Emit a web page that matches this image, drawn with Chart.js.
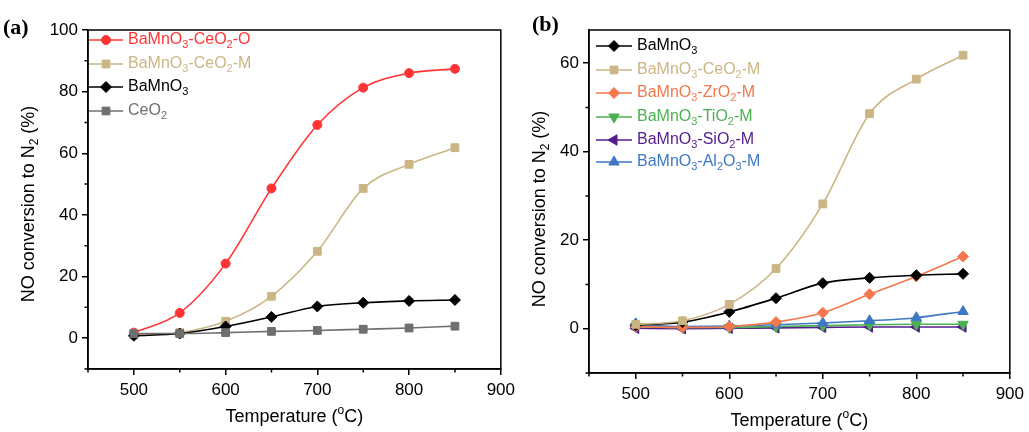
<!DOCTYPE html>
<html>
<head>
<meta charset="utf-8">
<script src="https://cdn.jsdelivr.net/npm/chart.js@4.4.1/dist/chart.umd.min.js"></script>
<style>
  html, body { margin: 0; padding: 0; background: #fff; }
  #wrap { position: relative; width: 1029px; height: 432px; }
  #wrap canvas { position: absolute; top: 0; }
  #panelA { left: 0; }
  #panelB { left: 520px; }
</style>
</head>
<body>
<div id="wrap">
  <canvas id="panelA" width="520" height="432"></canvas>
  <canvas id="panelB" width="509" height="432"></canvas>
</div>
<script>
// temperatures (°C) shared by every series
const temps = [500, 550, 600, 650, 700, 750, 800, 850];

// panel (a)
const ceOxO = [1.8, 8.2, 24.2, 48.6, 69.2, 81.3, 86.0, 87.4];
const ceOxM = [1.0, 1.8, 5.5, 13.6, 28.2, 48.6, 56.4, 61.8];
const bamno3 = [0.8, 1.5, 3.8, 6.9, 10.3, 11.5, 12.1, 12.4];
const ceo2 = [1.5, 1.5, 1.8, 2.2, 2.5, 2.9, 3.3, 3.9];

// panel (b)
const zro2M = [0.5, 0.3, 0.5, 1.5, 3.6, 7.8, 11.8, 16.3];
const tio2M = [0.5, 0.3, 0.3, 0.5, 0.7, 0.9, 1.0, 1.0];
const sio2M = [0.1, 0.0, 0.1, 0.2, 0.3, 0.4, 0.4, 0.4];
const al2o3M = [1.1, 0.5, 0.6, 0.9, 1.3, 1.8, 2.5, 3.9];

const labelsA = ["BaMnO_{3}-CeO_{2}-O", "BaMnO_{3}-CeO_{2}-M", "BaMnO_{3}", "CeO_{2}"];
const labelsB = ["BaMnO_{3}", "BaMnO_{3}-CeO_{2}-M", "BaMnO_{3}-ZrO_{2}-M",
  "BaMnO_{3}-TiO_{2}-M", "BaMnO_{3}-SiO_{2}-M", "BaMnO_{3}-Al_{2}O_{3}-M"];

const xTicksMajor = [500, 600, 700, 800, 900];

const FONT = "'Liberation Sans', Arial, sans-serif";
const C = {
  red: "#ff3535",
  tan: "#cbb584",
  black: "#000000",
  gray: "#6f6f6f",
  orange: "#f4774d",
  green: "#4caf50",
  purple: "#521c8c",
  blue: "#3e78c4",
};

function pts(ys) {
  return temps.map((t, i) => ({ x: t, y: ys[i] }));
}

function series(label, ys, color, style, opts) {
  return Object.assign({
    label: label,
    data: pts(ys),
    borderColor: color,
    backgroundColor: color,
    pointBackgroundColor: color,
    pointBorderColor: color,
    pointStyle: style,
    pointRadius: 5,
    pointBorderWidth: 1,
    borderWidth: 1.6,
    cubicInterpolationMode: "monotone",
    fill: false,
  }, opts || {});
}

// text with _{sub} and ^{sup} parts
function drawRich(ctx, text, x, y, size, color, align) {
  const parts = [];
  const re = /_\{([^}]*)\}|\^\{([^}]*)\}/g;
  let last = 0, m;
  while ((m = re.exec(text))) {
    if (m.index > last) parts.push({ t: text.slice(last, m.index), k: 0 });
    parts.push(m[1] !== undefined ? { t: m[1], k: 1 } : { t: m[2], k: -1 });
    last = re.lastIndex;
  }
  if (last < text.length) parts.push({ t: text.slice(last), k: 0 });
  const small = Math.round(size * 0.68);
  let w = 0;
  parts.forEach(p => {
    ctx.font = (p.k ? small : size) + "px " + FONT;
    p.w = ctx.measureText(p.t).width;
    w += p.w;
  });
  let cx = align === "center" ? x - w / 2 : x;
  ctx.fillStyle = color;
  ctx.textBaseline = "middle";
  ctx.textAlign = "left";
  parts.forEach(p => {
    ctx.font = (p.k ? small : size) + "px " + FONT;
    const dy = p.k === 1 ? size * 0.32 : p.k === -1 ? -size * 0.36 : 0;
    ctx.fillText(p.t, cx, y + dy);
    cx += p.w;
  });
}

function markPoint(ctx, ds, x, y) {
  const opts = {
    pointStyle: ds.pointStyle,
    rotation: ds.rotation || 0,
    radius: ds.pointRadius,
    borderWidth: ds.pointBorderWidth,
  };
  ctx.fillStyle = ds.pointBackgroundColor;
  ctx.strokeStyle = ds.pointBorderColor;
  ctx.lineWidth = ds.pointBorderWidth;
  Chart.helpers.drawPoint(ctx, opts, x, y);
}

const panelDecor = {
  id: "panelDecor",
  afterDraw(chart, args, o) {
    const ctx = chart.ctx;
    const a = chart.chartArea;
    const xs = chart.scales.x, ys = chart.scales.y;
    ctx.save();

    // frame
    ctx.strokeStyle = "#000";
    ctx.lineWidth = 1.5;
    ctx.strokeRect(a.left, a.top, a.right - a.left, a.bottom - a.top);

    // minor ticks
    ctx.beginPath();
    for (let v = xs.min; v <= xs.max; v += 50) {
      if (v % 100 === 0) continue;
      const px = xs.getPixelForValue(v);
      ctx.moveTo(px, a.bottom);
      ctx.lineTo(px, a.bottom + 3.5);
    }
    for (let v = -10; v <= ys.max; v += 10) {
      if (v % 20 === 0) continue;
      const py = ys.getPixelForValue(v);
      ctx.moveTo(a.left, py);
      ctx.lineTo(a.left - 3.5, py);
    }
    ctx.stroke();

    // panel letter
    ctx.font = "bold 22px 'Liberation Serif', 'Times New Roman', serif";
    ctx.fillStyle = "#000";
    ctx.textBaseline = "middle";
    ctx.textAlign = "left";
    ctx.fillText(o.letter, o.letterX, o.letterY);

    // axis titles
    drawRich(ctx, "Temperature (^{o}C)", (a.left + a.right) / 2, o.xTitleY, 18, "#000", "center");
    ctx.save();
    ctx.translate(o.yTitleX, o.yTitleY);
    ctx.rotate(-Math.PI / 2);
    drawRich(ctx, "NO conversion to N_{2} (%)", 0, 0, 18, "#000", "center");
    ctx.restore();

    // legend
    const lg = o.legend;
    lg.order.forEach((di, i) => {
      const ds = chart.data.datasets[di];
      const y = lg.ys[i];
      ctx.strokeStyle = ds.borderColor;
      ctx.lineWidth = 1.6;
      ctx.beginPath();
      ctx.moveTo(lg.x0, y);
      ctx.lineTo(lg.x1, y);
      ctx.stroke();
      markPoint(ctx, ds, (lg.x0 + lg.x1) / 2, y);
      drawRich(ctx, ds.label, lg.xt, y, 16, ds.borderColor, "left");
    });
    ctx.restore();
  },
};

function axes(yMax, yWidth, xHeight) {
  const tickFont = { family: FONT, size: 17 };
  return {
    x: {
      type: "linear",
      min: 450,
      max: 900,
      afterBuildTicks: s => { s.ticks = xTicksMajor.map(v => ({ value: v })); },
      afterFit: s => { s.height = xHeight; },
      ticks: { color: "#000", font: tickFont, padding: 5, autoSkip: false, maxRotation: 0 },
      grid: { drawOnChartArea: false, drawTicks: true, tickLength: 6, color: "#000", lineWidth: 1.5 },
      border: { display: true, color: "#000", width: 1.5 },
    },
    y: {
      type: "linear",
      min: -10,
      max: yMax,
      afterBuildTicks: s => {
        const t = [];
        for (let v = 0; v <= s.max; v += 20) t.push({ value: v });
        s.ticks = t;
      },
      afterFit: s => { s.width = yWidth; },
      ticks: { color: "#000", font: tickFont, padding: 4, autoSkip: false },
      grid: { drawOnChartArea: false, drawTicks: true, tickLength: 6, color: "#000", lineWidth: 1.5 },
      border: { display: true, color: "#000", width: 1.5 },
    },
  };
}

new Chart(document.getElementById("panelA"), {
  type: "line",
  data: {
    datasets: [
      series(labelsA[0], ceOxO, C.red, "circle", { order: 3, pointRadius: 4.5 }),
      series(labelsA[1], ceOxM, C.tan, "rect", { order: 2, pointRadius: 5.5 }),
      series(labelsA[2], bamno3, C.black, "rectRot", { order: 1, pointRadius: 5.5 }),
      series(labelsA[3], ceo2, C.gray, "rect", { order: 0, pointRadius: 5.5 }),
    ],
  },
  options: {
    responsive: false,
    animation: false,
    layout: { padding: { left: 0, right: 13, top: 30, bottom: 0 } },
    scales: axes(100, 88, 63),
    plugins: {
      legend: { display: false },
      tooltip: { enabled: false },
      panelDecor: {
        letter: "(a)",
        letterX: 3,
        letterY: 28,
        xTitleY: 417,
        yTitleX: 29,
        yTitleY: 204,
        legend: { order: [0, 1, 2, 3], x0: 89, x1: 123, xt: 128, ys: [40, 64, 87, 111] },
      },
    },
  },
  plugins: [panelDecor],
});

new Chart(document.getElementById("panelB"), {
  type: "line",
  data: {
    datasets: [
      series(labelsB[0], bamno3, C.black, "rectRot", { order: 1, pointRadius: 5.5 }),
      series(labelsB[1], ceOxM, C.tan, "rect", { order: 0, pointRadius: 5.5 }),
      series(labelsB[2], zro2M, C.orange, "rectRot", { order: 2, pointRadius: 5.5 }),
      series(labelsB[3], tio2M, C.green, "triangle", { order: 4, pointRadius: 6, rotation: 180 }),
      series(labelsB[4], sio2M, C.purple, "triangle", { order: 5, pointRadius: 6, rotation: -90 }),
      series(labelsB[5], al2o3M, C.blue, "triangle", { order: 3, pointRadius: 6 }),
    ],
  },
  options: {
    responsive: false,
    animation: false,
    layout: { padding: { left: 0, right: 16, top: 30, bottom: 0 } },
    scales: axes(67.5, 69, 59),
    plugins: {
      legend: { display: false },
      tooltip: { enabled: false },
      panelDecor: {
        letter: "(b)",
        letterX: 12,
        letterY: 25,
        xTitleY: 421,
        yTitleX: 20,
        yTitleY: 209,
        legend: { order: [0, 1, 2, 3, 4, 5], x0: 76, x1: 112, xt: 117, ys: [46, 70, 93, 117, 140, 162] },
      },
    },
  },
  plugins: [panelDecor],
});
</script>
</body>
</html>
